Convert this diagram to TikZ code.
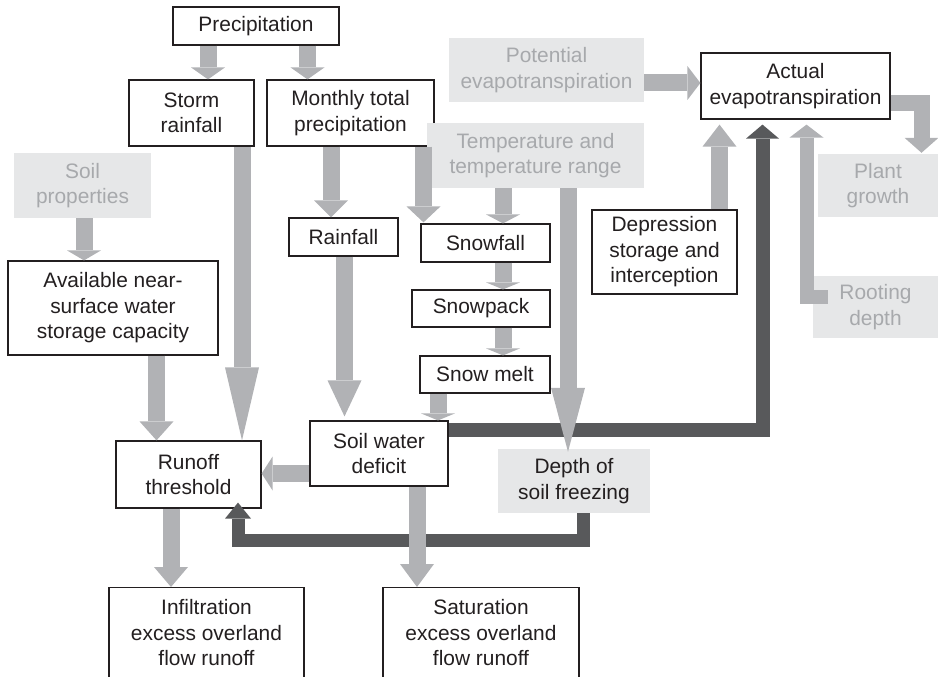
\documentclass[tikz,border=0pt]{standalone}
\usepackage{fontspec}
\setmainfont{Liberation Sans}
\usetikzlibrary{arrows.meta}

\definecolor{flowgray}{HTML}{B1B2B5}
\definecolor{flowdark}{HTML}{58595B}
\definecolor{boxgray}{HTML}{E6E7E8}
\definecolor{textgray}{HTML}{A7A9AC}
\definecolor{inkblack}{HTML}{231F20}

\begin{document}
\begin{tikzpicture}[x=1pt,y=-1pt,
    font=\fontsize{20.9}{25.5}\selectfont,
    size/.style 2 args={minimum width=#1pt,minimum height=#2pt},
    box/.style={draw=inkblack,line width=1.2pt,fill=white,text=inkblack,align=center,inner sep=0pt},
    soft/.style={fill=boxgray,text=textgray,align=center,inner sep=0pt},
    tip/.style 2 args={-{Triangle[length=#1,width=#2,line width=0pt]}},
    flow/.style={draw=flowgray,line width=17pt,tip={#1}{34pt}},
    flow/.default=12pt,
    dark/.style={draw=flowdark,line width=14pt,tip={#1}{33pt}},
    dark/.default=14pt]
    \useasboundingbox (0,0) rectangle (938,677);
    \clip (0,0) rectangle (938,677);

    % input side
    \node[box,size={166}{38}] (precip) at (256,26) {Precipitation};
    \node[box,size={125}{66}] (storm) at (191.5,113) {Storm\\rainfall};
    \node[box,size={167}{66}] (monthly) at (350.5,113) {Monthly total\\precipitation};
    \node[soft,size={195}{64}] (potential) at (546.5,70) {Potential\\evapotranspiration};
    \node[box,size={189}{66}] (actual) at (795.5,86) {Actual\\evapotranspiration};
    \node[soft,size={217}{65}] (temp) at (535.5,155.5) {Temperature and\\temperature range};
    \node[soft,size={137}{65}] (soilprop) at (82.5,185.5) {Soil\\properties};
    \node[soft,size={120}{63}] (plant) at (878,185.5) {Plant\\growth};
    \node[box,size={210}{94}] (avail) at (113,308) {Available near-\\surface water\\storage capacity};
    \node[box,size={109}{38}] (rainfall) at (343.5,237) {Rainfall};
    \node[box,size={129}{38}] (snowfall) at (485.5,243) {Snowfall};
    \node[box,size={138}{37}] (snowpack) at (481,308.5) {Snowpack};
    \node[box,size={130}{37}] (snowmelt) at (485,374.5) {Snow melt};
    \node[box,size={145}{84}] (depression) at (664.5,252) {Depression\\storage and\\interception};
    \node[soft,size={125}{62}] (rooting) at (875.5,307) {Rooting\\depth};
    % lower part
    \node[box,size={145}{67}] (runoff) at (188.5,474.5) {Runoff\\threshold};
    \node[box,size={138}{65}] (soilwater) at (379,453.5) {Soil water\\deficit};
    \node[soft,size={152}{64},text=inkblack] (depth) at (574,481) {Depth of\\soil freezing};
    \node[box,anchor=north,minimum width=195pt,inner ysep=12pt,text depth=80pt] (infil) at (206.5,587) {Infiltration\\excess overland\\flow runoff};
    \node[box,anchor=north,minimum width=196pt,inner ysep=12pt,text depth=80pt] (satur) at (481,587) {Saturation\\excess overland\\flow runoff};

    % dark links
    \draw[dark] ([yshift=24pt]soilwater.east) -| ([xshift=-33pt,yshift=-5pt]actual.south);
    \draw[draw=flowdark,line width=13pt,tip={16pt}{26pt}] ([xshift=9pt]depth.south) -- ++(0,27) -| ([xshift=49.5pt,yshift=6pt]runoff.south);

    % grey links
    \draw[flow] ([xshift=-48pt]precip.south) -- ([xshift=16.5pt]storm.north);
    \draw[flow] ([xshift=51.5pt]precip.south) -- ([xshift=-43pt]monthly.north);
    \draw[flow=73pt] ([xshift=50.5pt]storm.south) -- ([xshift=53.5pt]runoff.north);
    \draw[flow=17pt] ([xshift=-19.5pt]monthly.south) -- ([xshift=-12.5pt]rainfall.north);
    \draw[flow=16pt] ([xshift=73pt]monthly.south) -- ([xshift=-62pt,yshift=1pt]snowfall.north);
    \draw[flow=10pt] ([xshift=1.5pt]soilprop.south) -- ([xshift=-29pt]avail.north);
    \draw[flow=19pt] ([xshift=43.5pt]avail.south) -- ([xshift=-32pt]runoff.north);
    \coordinate (snowx) at (503,0);
    \draw[flow=9pt] (temp.south -| snowx) -- (snowfall.north -| snowx);
    \foreach \a/\b in {snowfall/snowpack,snowpack/snowmelt}
        \draw[flow=7pt] (\a.south -| snowx) -- (\b.north -| snowx);
    \draw[flow=7pt] ([xshift=-47pt]snowmelt.south) -- ([xshift=59pt]soilwater.north);
    \draw[flow=36pt] ([xshift=1pt]rainfall.south) -- ([xshift=-34.5pt,yshift=4pt]soilwater.north);
    \draw[flow=64pt] ([xshift=32.5pt]temp.south) -- ([xshift=-6pt,yshift=-3pt]depth.north);
    \draw[flow=11pt] ([yshift=-20pt]soilwater.west) -- ([yshift=1pt]runoff.east);
    \draw[flow=20pt] ([xshift=-17.5pt]runoff.south) -- ([xshift=-35.5pt]infil.north);
    \draw[flow=23pt] ([xshift=38pt]soilwater.south) -- ([xshift=-64pt]satur.north);
    \draw[flow=13pt] ([yshift=-13pt]potential.east) -- ([yshift=3pt]actual.west);
    \draw[flow=15pt,line width=16pt] ([yshift=-17pt]actual.east) -| ([xshift=43.5pt,yshift=1pt]plant.north);
    \draw[flow=22pt] ([xshift=55pt]depression.north) -- ([xshift=-76pt,yshift=-5pt]actual.south);
    \draw[flow=13pt,line width=14pt] ([xshift=15pt,yshift=10.5pt]rooting.west) -| ([xshift=11pt,yshift=-5pt]actual.south);
\end{tikzpicture}
\end{document}
